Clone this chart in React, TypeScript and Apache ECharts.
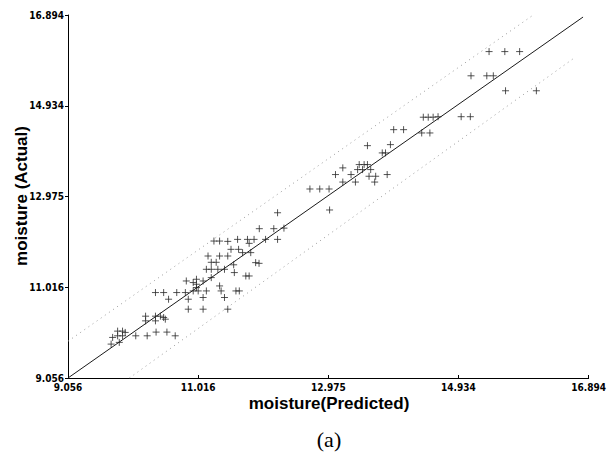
import React, { useEffect, useRef } from "react";
import * as echarts from "echarts";

// Tick values shared by both axes
const tickValues: number[] = [9.056, 11.016, 12.975, 14.934, 16.894];

// Scatter points: predicted (x) and actual (y) moisture
const predicted: number[] = [
  15.395, 15.632, 15.855,
  15.123, 15.361, 15.459,
  15.643, 16.107,
  14.405, 14.479, 14.553, 14.627,
  14.975, 15.113,
  13.959, 14.108,
  14.381, 14.504,
  13.564, 13.91,
  13.787, 13.836,
  13.44, 13.514, 13.564,
  13.416, 13.49, 13.613, 13.193,
  13.083, 13.317, 13.588, 13.688, 13.861,
  13.193, 13.383, 13.673,
  12.698, 12.846, 12.986,
  12.994, 12.211,
  11.936, 12.154, 12.307,
  11.609, 11.758, 11.857, 12.03, 12.211,
  11.253, 11.338, 11.461,
  11.783,
  11.51, 11.624,
  11.684, 11.807,
  11.164, 11.338, 11.461,
  11.213, 11.287,
  11.55,
  11.881, 11.932,
  11.139, 11.213, 11.312, 11.412,
  11.56,
  11.213,
  11.733, 11.783,
  10.99, 10.837, 11.09, 10.941,
  10.99, 10.99, 11.338, 11.361,
  10.941, 11.016, 11.139, 11.584, 11.635,
  10.373, 10.496, 10.693, 10.823,
  11.09, 11.412, 10.57, 10.867,
  10.867, 11.09, 11.461,
  10.224, 10.373, 10.447, 10.496, 10.521, 10.224, 10.373,
  9.803, 9.877, 9.917, 10.382, 10.545,
  9.803, 9.877, 10.076, 10.248, 10.67,
  9.728, 9.828, 9.705,
];
const actual: number[] = [
  16.104, 16.104, 16.104,
  15.581, 15.581, 15.581,
  15.258, 15.258,
  14.687, 14.687, 14.687, 14.698,
  14.698, 14.698,
  14.418, 14.418,
  14.347, 14.347,
  14.073, 14.095,
  13.916, 13.916,
  13.664, 13.664, 13.664,
  13.556, 13.556, 13.556, 13.593,
  13.449, 13.449, 13.412, 13.412, 13.449,
  13.287, 13.287, 13.287,
  13.137, 13.137, 13.137,
  12.684, 12.624,
  12.28, 12.28, 12.292,
  12.049, 12.049, 12.049, 12.049, 12.049,
  12.013, 12.013, 12.006,
  11.963,
  11.834, 11.834,
  11.763, 11.763,
  11.69, 11.69, 11.69,
  11.554, 11.554,
  11.5,
  11.547, 11.532,
  11.403, 11.403, 11.403, 11.403,
  11.332,
  11.224,
  11.259, 11.259,
  11.188, 11.151, 11.151, 11.117,
  11.08, 11.009, 11.044, 10.936,
  10.936, 10.936, 10.936, 10.936, 10.936,
  10.901, 10.901, 10.901, 10.901,
  10.794, 10.794, 10.757, 10.757,
  10.542, 10.542, 10.542,
  10.391, 10.391, 10.391, 10.363, 10.326, 10.29, 10.29,
  10.068, 10.068, 10.04, 10.047, 10.047,
  9.967, 9.967, 9.967, 9.967, 9.967,
  9.932, 9.825, 9.788,
];

// Reference lines (end points in data units)
const fitLineX: number[] = [9.056, 16.81];
const fitLineY: number[] = [9.056, 16.85];
const upperBandX: number[] = [9.056, 16.06];
const upperBandY: number[] = [9.85, 16.894];
const lowerBandX: number[] = [9.98, 16.7];
const lowerBandY: number[] = [9.056, 15.99];

const axisTitleX = "moisture(Predicted)";
const axisTitleY = "moisture (Actual)";
const caption = "(a)";

const tickFont = '"Liberation Sans Narrow", "DejaVu Sans Condensed", "Liberation Sans", Arial, sans-serif';
const titleFont = '"Liberation Sans", Arial, Helvetica, sans-serif';

const pairs = (xs: number[], ys: number[]) => xs.map((x, i) => [x, ys[i]]);

export default function App() {
  const ref = useRef<HTMLDivElement | null>(null);

  useEffect(() => {
    if (!ref.current) return;
    const chart = echarts.init(ref.current, undefined, { renderer: "svg" });
    const axisCommon = (isX: boolean) => ({
      type: "value" as const,
      min: tickValues[0],
      max: tickValues[tickValues.length - 1],
      axisLine: { show: true, onZero: false, lineStyle: { color: "#000", width: 1 } },
      axisTick: {
        show: true,
        inside: isX,
        length: 3,
        customValues: tickValues,
        lineStyle: { color: "#000", width: 1 },
      },
      axisLabel: {
        customValues: tickValues,
        formatter: (v: number) => v.toFixed(3),
        color: "#000",
        fontSize: 10,
        fontWeight: "bold" as const,
        fontFamily: tickFont,
        margin: isX ? 4 : 4,
        showMinLabel: true,
        showMaxLabel: true,
      },
      splitLine: { show: false },
    });

    chart.setOption({
      animation: false,
      backgroundColor: "#fff",
      grid: { left: 68, right: 14, top: 15, bottom: 90, containLabel: false },
      xAxis: axisCommon(true),
      yAxis: axisCommon(false),
      graphic: [
        {
          type: "text",
          x: 21,
          y: 196,
          rotation: Math.PI / 2,
          style: {
            text: axisTitleY,
            font: `bold 17px ${titleFont}`,
            fill: "#000",
            textAlign: "center",
            textVerticalAlign: "middle",
          },
        },
        {
          type: "text",
          x: 329,
          y: 403,
          style: {
            text: axisTitleX,
            font: `bold 17px ${titleFont}`,
            fill: "#000",
            textAlign: "center",
            textVerticalAlign: "middle",
          },
        },
        {
          type: "text",
          x: 329,
          y: 439,
          style: {
            text: caption,
            font: `22px "Liberation Serif", "DejaVu Serif", "Times New Roman", serif`,
            fill: "#000",
            textAlign: "center",
            textVerticalAlign: "middle",
          },
        },
      ],
      series: [
        {
          type: "line",
          data: pairs(upperBandX, upperBandY),
          symbol: "none",
          silent: true,
          lineStyle: { color: "#9a9a9a", width: 1, type: [1, 4] },
        },
        {
          type: "line",
          data: pairs(lowerBandX, lowerBandY),
          symbol: "none",
          silent: true,
          lineStyle: { color: "#9a9a9a", width: 1, type: [1, 4] },
        },
        {
          type: "line",
          data: pairs(fitLineX, fitLineY),
          symbol: "none",
          silent: true,
          lineStyle: { color: "#1a1a1a", width: 1 },
        },
        {
          type: "scatter",
          data: pairs(predicted, actual),
          symbol: "path://M5,0L5,10M0,5L10,5",
          symbolSize: 7,
          itemStyle: { color: "rgba(0,0,0,0)", borderColor: "#2a2a2a", borderWidth: 1 },
        },
      ],
    });
    return () => chart.dispose();
  }, []);

  return (
    <div
      ref={ref}
      style={{ position: "fixed", left: 0, top: 0, width: 609, height: 468, background: "#fff" }}
    />
  );
}
